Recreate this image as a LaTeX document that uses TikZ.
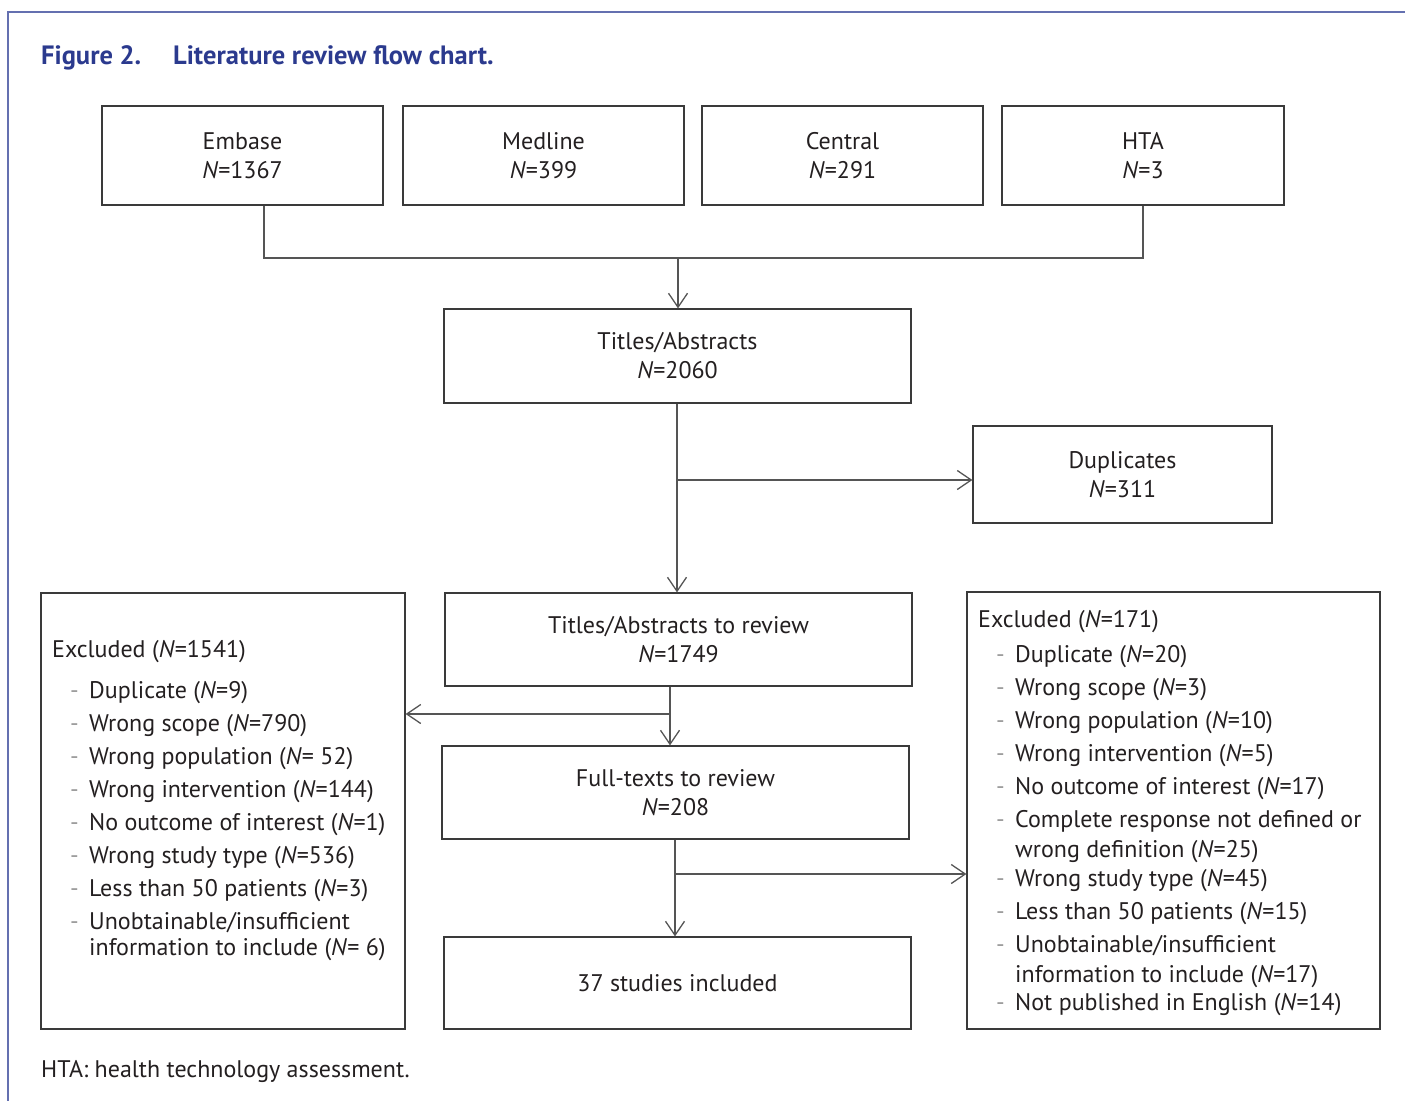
\documentclass[tikz,border=0pt]{standalone}
\usepackage{fontspec}
\setmainfont{PT Sans}
\usetikzlibrary{arrows.meta}
\definecolor{frameblue}{HTML}{6470B0}
\definecolor{titleblue}{HTML}{2B3A8E}
\definecolor{txt}{HTML}{231F20}
\definecolor{boxline}{HTML}{3A3A3A}
\definecolor{arrline}{HTML}{555555}
\definecolor{dashgray}{HTML}{9A9A9A}
\newcommand{\fs}{\fontsize{24}{29}\selectfont}
\newcommand{\NN}{\textit{N}}
\begin{document}
\begin{tikzpicture}[x=1pt,y=-1pt,
  box/.style={draw=boxline,line width=1.2pt,inner sep=0pt,align=center,text=txt,font=\fs},
  flow/.style={draw=arrline,line width=1.3pt},
  arr/.style={flow,-{Straight Barb[length=14pt,width=19pt]}},
  item/.style={anchor=base west,inner sep=0pt,text=txt,font=\fs},
  dashmark/.style={anchor=base west,inner sep=0pt,text=dashgray,font=\fs},
  ttl/.style={anchor=base west,inner sep=0pt,text=titleblue,font=\fontsize{26.5}{30}\selectfont\bfseries}]
\useasboundingbox (0,0) rectangle (1405,1101);
\draw[frameblue,line width=1.8pt] (1405,12) -- (8,12) -- (8,1101);
\node[ttl] (fig) at (41,64) {Figure 2.};
\node[ttl] (ttltext) at (173,64) {Literature review flow chart.};

% top boxes
\node[box,minimum width=281pt,minimum height=99pt] (emb) at (242.5,155.5) {Embase\\\NN=1367};
\node[box,minimum width=281pt,minimum height=99pt] (med) at (543.5,155.5) {Medline\\\NN=399};
\node[box,minimum width=281pt,minimum height=99pt] (cen) at (842.5,155.5) {Central\\\NN=291};
\node[box,minimum width=282pt,minimum height=99pt] (hta) at (1143,155.5) {HTA\\\NN=3};

\node[box,minimum width=467pt,minimum height=94pt] (ta) at (677.5,356) {Titles/Abstracts\\\NN=2060};
\node[box,minimum width=299pt,minimum height=97pt] (dup) at (1122.5,474.5) {Duplicates\\\NN=311};
\node[box,minimum width=467pt,minimum height=93pt] (tar) at (678.5,639.5) {Titles/Abstracts to review\\\NN=1749};
\node[box,minimum width=467pt,minimum height=93pt] (ft) at (675.5,792.5) {Full-texts to review\\\NN=208};
\node[box,minimum width=467pt,minimum height=92pt] (inc) at (677.5,983) {37 studies included};
\node[box,minimum width=364pt,minimum height=436pt] (lex) at (223,811) {};
\node[box,minimum width=413pt,minimum height=437pt] (rex) at (1173.5,810.5) {};

% connectors
\coordinate (j1) at (264,258);
\coordinate (j2) at (1143,258);
\coordinate (jm) at (678,258);
\draw[flow] (emb.south -| j1) -- (j1) -- (j2) -- (hta.south);
\draw[arr] (jm) -- (ta.north -| jm);
\coordinate (b1) at (677,480);
\draw[arr] (ta.south -| b1) -- (tar.north -| b1);
\draw[arr] (b1) -- (dup.west |- b1);
\coordinate (b2) at (670,714);
\draw[arr] (tar.south -| b2) -- (ft.north -| b2);
\draw[arr] (b2) -- (lex.east |- b2);
\coordinate (b3) at (675,874);
\draw[arr] (ft.south -| b3) -- (inc.north -| b3);
\draw[arr] (b3) -- (rex.west |- b3);

% left list
\node[item] (lh) at (52,657) {Excluded (\NN=1541)};
\node[dashmark] (ld1) at (70,698) {-}; \node[item] (l1) at (89,698) {Duplicate (\NN=9)};
\node[dashmark] (ld2) at (70,731) {-}; \node[item] (l2) at (89,731) {Wrong scope (\NN=790)};
\node[dashmark] (ld3) at (70,764) {-}; \node[item] (l3) at (89,764) {Wrong population (\NN= 52)};
\node[dashmark] (ld4) at (70,797) {-}; \node[item] (l4) at (89,797) {Wrong intervention (\NN=144)};
\node[dashmark] (ld5) at (70,830) {-}; \node[item] (l5) at (89,830) {No outcome of interest (\NN=1)};
\node[dashmark] (ld6) at (70,863) {-}; \node[item] (l6) at (89,863) {Wrong study type (\NN=536)};
\node[dashmark] (ld7) at (70,896) {-}; \node[item] (l7) at (89,896) {Less than 50 patients (\NN=3)};
\node[dashmark] (ld8) at (70,929) {-}; \node[item] (l8) at (89,929) {Unobtainable/insufficient};
\node[item] (l8b) at (89,955) {information to include (\NN= 6)};

% right list
\node[item] (rh) at (978,627) {Excluded (\NN=171)};
\node[dashmark] (rd1) at (996,662) {-}; \node[item] (r1) at (1015,662) {Duplicate (\NN=20)};
\node[dashmark] (rd2) at (996,695) {-}; \node[item] (r2) at (1015,695) {Wrong scope (\NN=3)};
\node[dashmark] (rd3) at (996,728) {-}; \node[item] (r3) at (1015,728) {Wrong population (\NN=10)};
\node[dashmark] (rd4) at (996,761) {-}; \node[item] (r4) at (1015,761) {Wrong intervention (\NN=5)};
\node[dashmark] (rd5) at (996,794) {-}; \node[item] (r5) at (1015,794) {No outcome of interest (\NN=17)};
\node[dashmark] (rd6) at (996,827) {-}; \node[item] (r6) at (1015,827) {Complete response not defined or};
\node[item] (r6b) at (1015,857) {wrong definition (\NN=25)};
\node[dashmark] (rd7) at (996,886) {-}; \node[item] (r7) at (1015,886) {Wrong study type (\NN=45)};
\node[dashmark] (rd8) at (996,919) {-}; \node[item] (r8) at (1015,919) {Less than 50 patients (\NN=15)};
\node[dashmark] (rd9) at (996,952) {-}; \node[item] (r9) at (1015,952) {Unobtainable/insufficient};
\node[item] (r9b) at (1015,982) {information to include (\NN=17)};
\node[dashmark] (rd10) at (996,1010) {-}; \node[item] (r10) at (1015,1010) {Not published in English (\NN=14)};

\node[item] (foot) at (41,1077) {HTA: health technology assessment.};
\end{tikzpicture}
\end{document}
